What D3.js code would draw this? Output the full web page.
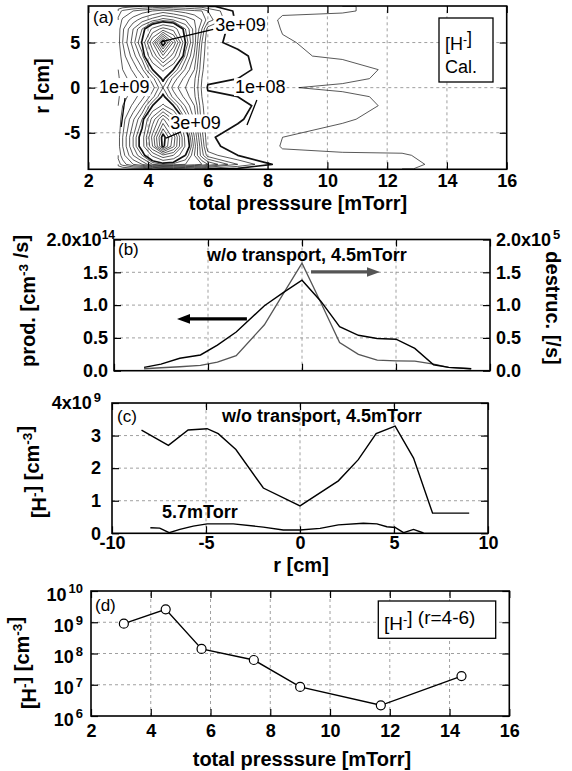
<!DOCTYPE html>
<html><head><meta charset="utf-8">
<script src="https://cdn.jsdelivr.net/npm/d3@7"></script>
<style>
body{margin:0;background:#fff}
svg{display:block}
</style></head><body>
<svg id="c" width="572" height="771"></svg>
<script>
// ---------------- DATA ----------------
// Panel (a): calculated H- density map, units of 1e9 cm^-3
const aPressure = [3.0, 3.15, 3.5, 3.8, 4.15, 4.5, 4.85, 5.25, 5.55, 5.8, 6.0, 7.0, 8.5, 10.5, 12.5, 14.4];
const aRadius = [9, 8.5, 7.5, 6.5, 5, 3.5, 2, 1, 0, -1, -2, -3.5, -5.5, -6.5, -7.5, -8.5, -9];
const aCol_3_00 = [0.12,0.25,0.32,0.35,0.36,0.33,0.3,0.28,0.27,0.28,0.3,0.33,0.36,0.36,0.33,0.25,0.1];
const aCol_3_15 = [0.15,0.32,0.42,0.48,0.5,0.45,0.4,0.36,0.34,0.36,0.4,0.45,0.5,0.5,0.45,0.35,0.12];
const aCol_3_50 = [0.18,0.4,0.55,0.7,0.75,0.65,0.52,0.45,0.42,0.45,0.52,0.68,0.8,0.8,0.7,0.5,0.15];
const aCol_3_80 = [0.2,0.45,0.65,0.9,1.02,0.85,0.68,0.56,0.5,0.56,0.68,0.9,1.1,1.1,0.9,0.6,0.15];
const aCol_4_15 = [0.22,0.5,0.75,1.3,2.0,1.5,1.0,0.76,0.66,0.76,1.0,1.6,2.1,2.0,1.3,0.8,0.2];
const aCol_4_50 = [0.25,0.55,0.85,1.6,3.25,2.2,1.3,1.04,0.9,1.04,1.3,2.3,3.15,3.1,1.7,0.9,0.25];
const aCol_4_85 = [0.22,0.5,0.8,1.4,2.2,1.6,1.0,0.76,0.66,0.76,1.0,1.7,2.4,2.3,1.5,0.85,0.25];
const aCol_5_25 = [0.2,0.45,0.7,0.9,1.0,0.85,0.68,0.56,0.5,0.56,0.68,0.9,1.15,1.2,1.0,0.8,0.22];
const aCol_5_55 = [0.18,0.42,0.6,0.65,0.65,0.58,0.5,0.42,0.4,0.42,0.5,0.58,0.7,0.75,0.7,0.75,0.2];
const aCol_5_80 = [0.15,0.4,0.5,0.4,0.3,0.25,0.22,0.2,0.18,0.2,0.22,0.25,0.35,0.4,0.45,0.7,0.18];
const aCol_6_00 = [0.12,0.3,0.35,0.15,0.12,0.13,0.13,0.12,0.09,0.12,0.13,0.13,0.11,0.13,0.25,0.6,0.15];
const aCol_7_00 = [0.04,0.06,0.07,0.07,0.08,0.12,0.125,0.1,0.07,0.1,0.125,0.11,0.07,0.06,0.1,0.3,0.08];
const aCol_8_50 = [0.035,0.035,0.025,0.028,0.033,0.035,0.045,0.04,0.033,0.04,0.045,0.035,0.03,0.028,0.035,0.04,0.035];
const aCol_10_5 = [0.033,0.033,0.02,0.02,0.02,0.025,0.045,0.04,0.022,0.04,0.045,0.033,0.02,0.02,0.035,0.04,0.035];
const aCol_12_5 = [0.02,0.02,0.015,0.015,0.02,0.02,0.02,0.018,0.015,0.018,0.02,0.02,0.02,0.02,0.033,0.04,0.035];
const aCol_14_4 = [0.01,0.015,0.015,0.015,0.019,0.019,0.015,0.015,0.01,0.015,0.015,0.015,0.019,0.019,0.015,0.015,0.01];
const aLevels = [0.03,0.1,0.2,0.3,0.4,0.5,0.6,0.7,0.8,0.9,1.0,1.25,1.5,1.75,2.0,2.25,2.5,2.75,3.0];
const aThickLevels = [0.1, 1.0, 3.0];
const aXTicks = [2,4,6,8,10,12,14,16];
const aYTicks = [-5,0,5];

// Panel (b): production (x1e14 cm^-3/s) and destruction (x1e5 /s), w/o transport 4.5 mTorr
const bRadius = [-8.4,-7.5,-6.5,-5.4,-4.5,-3.5,-2,-1,0,1,2,3,4,5,6,7,7.8,9];
const bProduction = [0.05,0.10,0.19,0.24,0.39,0.59,0.99,1.19,1.38,1.06,0.67,0.54,0.49,0.48,0.34,0.09,0.05,0.03];
const bDestruction = [0.03,0.045,0.06,0.08,0.13,0.23,0.70,1.17,1.64,1.04,0.43,0.25,0.16,0.15,0.145,0.10,0.05,0.03];
const bXTicks = [-10,-5,0,5,10];
const bYTicks = [0,0.5,1.0,1.5,2.0];
const bLeftLabels = ["0.0","0.5","1.0","1.5","2.0x10"];
const bLeftSup = ["","","","","14"];
const bRightLabels = ["0.0","0.5","1.0","1.5","2.0x10"];
const bRightSup = ["","","","","5"];

// Panel (c): H- density (x1e9 cm^-3)
const cRadius45 = [-8.43,-7.0,-5.95,-4.94,-4.35,-3.41,-1.95,0,2.04,3.1,4.05,5.06,6.04,7.05,9];
const cDensity45 = [3.17,2.70,3.17,3.21,3.06,2.57,1.39,0.84,1.61,2.26,3.06,3.29,2.31,0.62,0.62];
const cRadius57 = [-7.96,-7.46,-6.96,-6.39,-5.68,-4.94,-3.55,-1.95,-0.89,0,1.07,2.04,3.37,4.09,4.62,5.06,5.51,6.04,6.57];
const cDensity57 = [0.17,0.16,0.02,0.12,0.22,0.29,0.29,0.19,0.10,0.10,0.15,0.26,0.31,0.29,0.20,0.18,0.02,0.12,0.01];
const cXTicks = [-10,-5,0,5,10];
const cYTicks = [0,1,2,3,4];
const cYLabels = ["0","1","2","3","4x10"];
const cYSup = ["","","","","9"];

// Panel (d): H- density at r=4-6 vs pressure
const dPressure = [3.1,4.5,5.7,7.45,9.0,11.7,14.4];
const dDensity = [9e8,2.6e9,1.4e8,6.2e7,8.5e6,2.2e6,1.9e7];
const dXTicks = [2,4,6,8,10,12,14,16];
const dYTicks = [1e6,1e7,1e8,1e9,1e10];
const dYLabels = ["10","10","10","10","10"];
const dYSup = ["6","7","8","9","10"];

// ---------------- DRAWING ----------------
const FONT = '"Liberation Sans", Arial, Helvetica, sans-serif';
const TICK = 18;
const svg = d3.select("#c");

function styleAxis(g) {
  g.attr("font-family", FONT).attr("font-size", TICK).attr("font-weight", "bold");
  g.select(".domain").remove();
  g.selectAll(".tick line").attr("stroke", "#000").attr("stroke-width", 1.2);
  g.selectAll(".tick text").attr("fill", "#000");
}
function setLabels(g, bases, sups, supSize, gap) {
  g.selectAll(".tick text").each(function(d, i) {
    const t = d3.select(this); t.text(null);
    t.append("tspan").text(bases[i]);
    if (sups && sups[i]) t.append("tspan").attr("dx", gap || 0).attr("dy", "-0.55em")
      .attr("font-size", supSize || 12).text(sups[i]);
  });
}
function gridLines(g, x, y, xs, ys) {
  const [x0, x1] = x.range(), [y0, y1] = y.range();
  g.selectAll(null).data(xs).enter().append("line")
    .attr("x1", d => x(d)).attr("x2", d => x(d)).attr("y1", y0).attr("y2", y1)
    .attr("stroke", "#888").attr("stroke-width", 0.8).attr("stroke-dasharray", "3,3");
  g.selectAll(null).data(ys).enter().append("line")
    .attr("y1", d => y(d)).attr("y2", d => y(d)).attr("x1", x0).attr("x2", x1)
    .attr("stroke", "#888").attr("stroke-width", 0.8).attr("stroke-dasharray", "3,3");
}
function frame(g, x, y) {
  const [x0, x1] = x.range(), [y0, y1] = y.range();
  g.append("rect").attr("x", Math.min(x0, x1)).attr("y", Math.min(y0, y1))
    .attr("width", Math.abs(x1 - x0)).attr("height", Math.abs(y1 - y0))
    .attr("fill", "none").attr("stroke", "#000").attr("stroke-width", 1.6);
}
function axes(g, x, y, o) {
  const [x0, x1] = x.range(), [y0, y1] = y.range();
  const gb = g.append("g").attr("transform", `translate(0,${y0})`)
    .call(d3.axisBottom(x).tickValues(o.xt).tickSizeInner(-7).tickSizeOuter(0).tickPadding(o.xpad || 7)
      .tickFormat(o.xlab ? (d => d) : () => ""));
  styleAxis(gb);
  const gt = g.append("g").attr("transform", `translate(0,${y1})`)
    .call(d3.axisTop(x).tickValues(o.xt).tickSizeInner(-7).tickSizeOuter(0).tickFormat(() => ""));
  styleAxis(gt);
  const gl = g.append("g").attr("transform", `translate(${x0},0)`)
    .call(d3.axisLeft(o.yl || y).tickValues(o.yt).tickSizeInner(-7).tickSizeOuter(0).tickPadding(o.ypad || 7)
      .tickFormat(o.ylab === false ? () => "" : (d => d)));
  styleAxis(gl);
  const gr = g.append("g").attr("transform", `translate(${x1},0)`)
    .call(d3.axisRight(o.yr || y).tickValues(o.yrt || o.yt).tickSizeInner(-7).tickSizeOuter(0).tickPadding(o.rpad || 6)
      .tickFormat(o.yrlab ? (d => d) : () => ""));
  styleAxis(gr);
  return {gb, gl, gr};
}
function title(x, y, rot, parts, size, anchor) {
  const t = svg.append("text").attr("transform", `translate(${x},${y}) rotate(${rot})`)
    .attr("text-anchor", anchor || "middle").attr("font-family", FONT)
    .attr("font-size", size || 20).attr("font-weight", "bold").attr("fill", "#000");
  parts.forEach(p => {
    if (p.sup) {
      t.append("tspan").attr("dy", "-0.5em").attr("font-size", (size || 20) * 0.68).text(p.sup);
      t.append("tspan").attr("dy", "0.5em").text("");
    } else t.append("tspan").text(p.t);
  });
  return t;
}
function plain(x, y, parts, size, weight) {
  const t = svg.append("text").attr("x", x).attr("y", y).attr("font-family", FONT)
    .attr("font-size", size).attr("font-weight", weight || "normal").attr("fill", "#000");
  parts.forEach(p => {
    if (p.sup) {
      t.append("tspan").attr("dy", "-0.5em").attr("font-size", size * 0.68).text(p.sup);
      t.append("tspan").attr("dy", "0.5em").text("");
    } else t.append("tspan").text(p.t);
  });
  return t;
}

// ---------- Panel (a) ----------
{
  const x = d3.scaleLinear([2, 16], [88.3, 506.7]);
  const y = d3.scaleLinear([-9.05, 9.05], [169.3, 6]);
  const g = svg.append("g");
  gridLines(g, x, y, aXTicks.slice(1, -1), aYTicks);

  const cols = [aCol_3_00, aCol_3_15, aCol_3_50, aCol_3_80, aCol_4_15, aCol_4_50, aCol_4_85, aCol_5_25,
    aCol_5_55, aCol_5_80, aCol_6_00, aCol_7_00, aCol_8_50, aCol_10_5, aCol_12_5, aCol_14_4];
  const nx = aPressure.length, ny = aRadius.length;
  const values = new Array(nx * ny);
  for (let j = 0; j < ny; j++) for (let i = 0; i < nx; i++) values[j * nx + i] = cols[i][j];
  const idxP = d3.scaleLinear().domain(d3.range(nx)).range(aPressure).clamp(true);
  const idxR = d3.scaleLinear().domain(d3.range(ny)).range(aRadius).clamp(true);
  const contours = d3.contours().size([nx, ny]).thresholds(aLevels)(values);
  function linePath(mp) {
    let d = "";
    mp.coordinates.forEach(poly => poly.forEach(ring => {
      let pen = false, px = 0, py = 0;
      ring.forEach((pt, k) => {
        const X = x(idxP(pt[0] - 0.5)), Y = y(idxR(pt[1] - 0.5));
        if (k > 0) {
          const q = ring[k - 1];
          const edge = (q[0] === 0 && pt[0] === 0) || (q[0] === nx && pt[0] === nx) ||
                       (q[1] === 0 && pt[1] === 0) || (q[1] === ny && pt[1] === ny);
          if (edge) pen = false;
          else {
            if (!pen) { d += `M${px.toFixed(2)},${py.toFixed(2)}`; pen = true; }
            d += `L${X.toFixed(2)},${Y.toFixed(2)}`;
          }
        }
        px = X; py = Y;
      });
    }));
    return d;
  }
  svg.append("clipPath").attr("id", "clipA").append("rect")
    .attr("x", 88.3).attr("y", 6).attr("width", 418.4).attr("height", 163.3);
  g.append("g").attr("clip-path", "url(#clipA)").selectAll("path").data(contours).enter().append("path")
    .attr("d", linePath).attr("fill", "none").attr("stroke", "#111")
    .attr("stroke-width", d => aThickLevels.includes(d.value) ? 1.7 : 0.7)
    .attr("stroke-linejoin", "round");

  // contour labels with leader lines
  const lab = (p, r, txt) => {
    const t = g.append("text").attr("x", x(p)).attr("y", y(r)).attr("font-family", FONT)
      .attr("font-size", 18).attr("fill", "#000").text(txt);
    const b = t.node().getBBox();
    g.insert("rect", () => t.node()).attr("x", b.x - 1).attr("y", b.y + 1).attr("width", b.width + 2)
      .attr("height", b.height - 2).attr("fill", "#fff");
  };
  const leader = (p1, r1, p2, r2) => g.append("line").attr("x1", x(p1)).attr("y1", y(r1))
    .attr("x2", x(p2)).attr("y2", y(r2)).attr("stroke", "#000").attr("stroke-width", 1.3);
  lab(6.25, 6.3, "3e+09"); leader(4.45, 5.1, 6.18, 6.47);
  lab(2.36, -0.6, "1e+09"); leader(3.23, -1.15, 3.1, -4.36);
  lab(4.74, -4.63, "3e+09"); leader(4.6, -5.6, 5.1, -4.9);
  lab(6.91, -0.6, "1e+08"); leader(7.64, -1.37, 7.31, -4.14);

  frame(g, x, y);
  axes(g, x, y, {xt: aXTicks, yt: aYTicks, xlab: true, xpad: 5, ypad: 8});
  // legend box
  g.append("rect").attr("x", 439).attr("y", 18).attr("width", 54).attr("height", 64)
    .attr("fill", "#fff").attr("stroke", "#000").attr("stroke-width", 1.3);
  plain(445, 50, [{t: "[H"}, {sup: "-"}, {t: "]"}], 18);
  plain(445, 73, [{t: "Cal."}], 18);
  plain(93, 23, [{t: "(a)"}], 17);
  title(298, 210, 0, [{t: "total presssure [mTorr]"}]);
  title(49, 86, -90, [{t: "r [cm]"}]);
}

// ---------- Panel (b) ----------
{
  const x = d3.scaleLinear([-10, 10], [114, 490]);
  const yl = d3.scaleLinear([0, 2], [370.7, 239.5]);
  const yr = d3.scaleLinear([0, 2], [370.7, 239.5]);
  const g = svg.append("g");
  gridLines(g, x, yl, [-5, 0, 5], [0.5, 1.0, 1.5]);
  g.append("path").datum(bRadius.map((r, i) => [r, bDestruction[i]]))
    .attr("d", d3.line().x(d => x(d[0])).y(d => yr(d[1])))
    .attr("fill", "none").attr("stroke", "#555").attr("stroke-width", 1.3);
  g.append("path").datum(bRadius.map((r, i) => [r, bProduction[i]]))
    .attr("d", d3.line().x(d => x(d[0])).y(d => yl(d[1])))
    .attr("fill", "none").attr("stroke", "#000").attr("stroke-width", 1.4);
  // arrows
  const arrow = (r0, r1, v, yS, col, dir) => {
    const X0 = x(r0), X1 = x(r1), Y = yS(v);
    g.append("line").attr("x1", X0).attr("x2", X1 - dir * 10).attr("y1", Y).attr("y2", Y)
      .attr("stroke", col).attr("stroke-width", 3.3);
    g.append("path").attr("d", `M${X1},${Y}L${X1 - dir * 13},${Y - 4.8}L${X1 - dir * 13},${Y + 4.8}Z`).attr("fill", col);
  };
  arrow(-2.93, -6.65, 0.79, yl, "#000", -1);
  arrow(0.48, 4.15, 1.505, yr, "#555", 1);
  frame(g, x, yl);
  const a = axes(g, x, yl, {xt: bXTicks, yt: bYTicks, yr: yr, xlab: false, ypad: 6, yrlab: true, rpad: 6});
  setLabels(a.gl, bLeftLabels, bLeftSup, 12, 0);
  setLabels(a.gr, bRightLabels, bRightSup, 13, 2);
  a.gl.selectAll(".tick text").filter((d, i) => i === 4).attr("x", 1);
  plain(118, 255, [{t: "(b)"}], 17);
  plain(207, 261, [{t: "w/o transport, 4.5mTorr"}], 18, "bold");
  title(35, 301, -90, [{t: "prod. [cm"}, {sup: "-3"}, {t: " /s]"}]);
  title(546, 308, 90, [{t: "destruc. [/s]"}]);
}

// ---------- Panel (c) ----------
{
  const x = d3.scaleLinear([-10, 10], [112, 488]);
  const y = d3.scaleLinear([0, 4], [533.3, 403]);
  const g = svg.append("g");
  gridLines(g, x, y, [-5, 0, 5], [1, 2, 3]);
  const line = d3.line().x(d => x(d[0])).y(d => y(d[1]));
  g.append("path").datum(cRadius45.map((r, i) => [r, cDensity45[i]])).attr("d", line)
    .attr("fill", "none").attr("stroke", "#000").attr("stroke-width", 1.4);
  g.append("path").datum(cRadius57.map((r, i) => [r, cDensity57[i]])).attr("d", line)
    .attr("fill", "none").attr("stroke", "#000").attr("stroke-width", 1.4);
  frame(g, x, y);
  const a = axes(g, x, y, {xt: cXTicks, yt: cYTicks, xlab: true, xpad: 3, ypad: 11});
  setLabels(a.gl, cYLabels, cYSup, 13, 2);
  plain(117, 422, [{t: "(c)"}], 17);
  plain(222, 422, [{t: "w/o transport, 4.5mTorr"}], 18, "bold");
  plain(162, 518, [{t: "5.7mTorr"}], 18, "bold");
  title(301, 572, 0, [{t: "r [cm]"}]);
  title(46, 472, -90, [{t: "[H"}, {sup: "-"}, {t: "] [cm"}, {sup: "-3"}, {t: "]"}]);
}

// ---------- Panel (d) ----------
{
  const x = d3.scaleLinear([2, 16], [91, 509.3]);
  const y = d3.scaleLog([1e6, 1e10], [716, 591]);
  const g = svg.append("g");
  gridLines(g, x, y, dXTicks.slice(1, -1), [1e7, 1e8, 1e9]);
  g.append("path").datum(dPressure.map((p, i) => [p, dDensity[i]]))
    .attr("d", d3.line().x(d => x(d[0])).y(d => y(d[1])))
    .attr("fill", "none").attr("stroke", "#000").attr("stroke-width", 1.4);
  g.selectAll("circle").data(dPressure.map((p, i) => [p, dDensity[i]])).enter().append("circle")
    .attr("cx", d => x(d[0])).attr("cy", d => y(d[1])).attr("r", 4.5)
    .attr("fill", "#fff").attr("stroke", "#000").attr("stroke-width", 1.2);
  frame(g, x, y);
  const a = axes(g, x, y, {xt: dXTicks, yt: dYTicks, xlab: true, xpad: 8, ypad: 8});
  setLabels(a.gl, dYLabels, dYSup, 13, 2);
  a.gl.selectAll(".tick text").attr("dy", "0.5em");
  g.append("rect").attr("x", 378.3).attr("y", 601).attr("width", 117.4).attr("height", 37.3)
    .attr("fill", "#fff").attr("stroke", "#000").attr("stroke-width", 1.3);
  plain(384, 630, [{t: "[H"}, {sup: "-"}, {t: "] (r=4-6)"}], 19);
  plain(95, 611, [{t: "(d)"}], 17);
  title(302, 766, 0, [{t: "total presssure [mTorr]"}]);
  title(36, 663, -90, [{t: "[H"}, {sup: "-"}, {t: "] [cm"}, {sup: "-3"}, {t: "]"}]);
}
</script>
</body></html>
